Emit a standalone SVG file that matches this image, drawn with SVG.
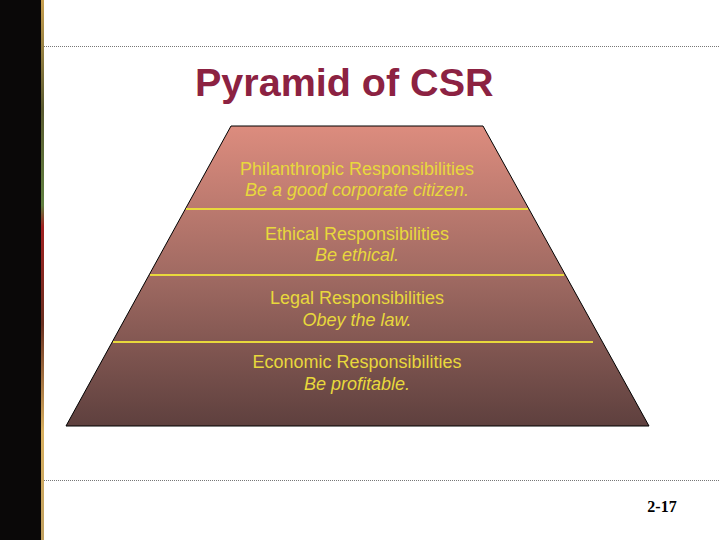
<svg xmlns="http://www.w3.org/2000/svg" width="720" height="540" viewBox="0 0 720 540">
<defs>
<linearGradient id="pg" x1="0" y1="126" x2="0" y2="426" gradientUnits="userSpaceOnUse">
<stop offset="0" stop-color="#dc8c7e"/>
<stop offset="0.5" stop-color="#a06a62"/>
<stop offset="1" stop-color="#5e403e"/>
</linearGradient>
<linearGradient id="bar" x1="0" y1="0" x2="0" y2="540" gradientUnits="userSpaceOnUse">
<stop offset="0" stop-color="#c8a050"/>
<stop offset="0.2" stop-color="#5a5a30"/>
<stop offset="0.38" stop-color="#608040"/>
<stop offset="0.42" stop-color="#a02020"/>
<stop offset="0.6" stop-color="#6a3020"/>
<stop offset="0.8" stop-color="#d8b060"/>
<stop offset="1" stop-color="#c0a060"/>
</linearGradient>
</defs>
<style>
.lbl{font-family:"Liberation Sans",Arial,sans-serif;font-size:18px;fill:#e8d83c;text-anchor:middle}
.it{font-style:italic}
.sep{stroke:#e8d83c;stroke-width:2}
.dot{stroke:#777;stroke-width:1;stroke-dasharray:1 1}
</style>
<rect width="720" height="540" fill="#ffffff"/>
<rect x="0" y="0" width="41" height="540" fill="#0a0808"/>
<rect x="41" y="0" width="3" height="540" fill="url(#bar)"/>
<line class="dot" x1="44" y1="46.5" x2="720" y2="46.5"/>
<line class="dot" x1="44" y1="480.5" x2="720" y2="480.5"/>
<text x="195" y="96" font-family="Liberation Sans,Arial,sans-serif" font-weight="bold" font-size="39.5" fill="#8c2242">Pyramid of CSR</text>
<g id="pyramid">
<polygon points="231,126 483,126 649,426 66,426" fill="url(#pg)" stroke="#000" stroke-width="1"/>
</g>
<g id="connectors">
<line class="sep" x1="186" y1="209" x2="528" y2="209"/>
<line class="sep" x1="150" y1="275" x2="564" y2="275"/>
<line class="sep" x1="113" y1="342" x2="593" y2="342"/>
</g>
<g id="philanthropic">
<text class="lbl" x="357" y="175">Philanthropic Responsibilities</text>
<text class="lbl it" x="357" y="196">Be a good corporate citizen.</text>
</g>
<g id="ethical">
<text class="lbl" x="357" y="240">Ethical Responsibilities</text>
<text class="lbl it" x="357" y="261">Be ethical.</text>
</g>
<g id="legal">
<text class="lbl" x="357" y="304">Legal Responsibilities</text>
<text class="lbl it" x="357" y="326">Obey the law.</text>
</g>
<g id="economic">
<text class="lbl" x="357" y="368">Economic Responsibilities</text>
<text class="lbl it" x="357" y="390">Be profitable.</text>
</g>
<text x="662" y="512" font-family="Liberation Serif,Times New Roman,serif" font-weight="bold" font-size="16" fill="#000" text-anchor="middle">2-17</text>
</svg>
